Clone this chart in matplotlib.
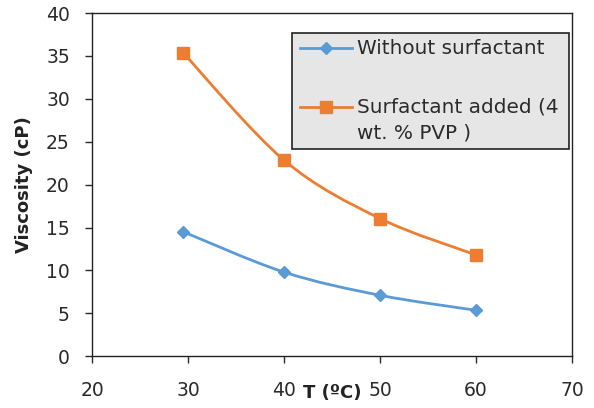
import matplotlib
matplotlib.use('Agg')
import matplotlib.pyplot as plt
import numpy as np
from matplotlib.path import Path
from matplotlib.patches import PathPatch, Rectangle
from matplotlib.lines import Line2D

temp = [29.5, 40, 50, 60]
visc_plain = [14.5, 9.8, 7.1, 5.35]
visc_pvp = [35.35, 22.85, 16.05, 11.8]

labels = ['Without surfactant', 'Surfactant added (4', 'wt. % PVP )']
x_ticks = [20, 30, 40, 50, 60, 70]
y_ticks = [0, 5, 10, 15, 20, 25, 30, 35, 40]

c_blue = '#5B9BD5'
c_orange = '#ED7D31'

plt.rcParams['font.family'] = ['DejaVu Sans']


def smooth_path(xs, ys):
    # Excel style smoothed line: cubic bezier with catmull-rom style control points
    p = np.column_stack([xs, ys]).astype(float)
    ext = np.vstack([p[0], p, p[-1]])
    verts = [p[0]]
    codes = [Path.MOVETO]
    for i in range(len(p) - 1):
        p0, p1, p2, p3 = ext[i], ext[i + 1], ext[i + 2], ext[i + 3]
        verts += [p1 + (p2 - p0) / 6, p2 - (p3 - p1) / 6, p2]
        codes += [Path.CURVE4] * 3
    return Path(verts, codes)


fig = plt.figure(figsize=(5.94, 4.08), dpi=100)
ax = fig.add_axes([0.155, 0.127, 0.808, 0.841])

for ys, col, mk, ms in [(visc_plain, c_blue, 'D', 6.5), (visc_pvp, c_orange, 's', 8.5)]:
    ax.add_patch(PathPatch(smooth_path(temp, ys), facecolor='none', edgecolor=col, lw=2))
    ax.plot(temp, ys, linestyle='none', marker=mk, ms=ms, color=col, zorder=3)

ax.set_xlim(20, 70)
ax.set_ylim(0, 40)
ax.set_xticks(x_ticks)
ax.set_yticks(y_ticks)
ax.tick_params(direction='out', length=5, width=1, labelsize=13.5, colors='#2a2a2a')
ax.tick_params(axis='y', pad=11)
ax.tick_params(axis='x', pad=13)
for s in ax.spines.values():
    s.set_linewidth(1)
    s.set_color('#222222')

ax.set_ylabel('Viscosity (cP)', fontsize=13, fontweight='bold', color='#222222')
ax.yaxis.set_label_coords(-0.123, 0.5)
ax.set_xlabel('T (ºC)', fontsize=13, fontweight='bold', color='#222222', va='center')
ax.xaxis.set_label_coords(0.5, -0.108)

# legend box, drawn by hand so the two-line label sits like the original
ax.add_patch(Rectangle((0.416, 0.603), 0.578, 0.338, transform=ax.transAxes,
                       facecolor='#e6e6e6', edgecolor='#222222', lw=1.2, zorder=4))
rows = [0.898, 0.726]
for y, col, mk, ms in [(rows[0], c_blue, 'D', 6), (rows[1], c_orange, 's', 8.5)]:
    ax.add_line(Line2D([0.433, 0.541], [y, y], transform=ax.transAxes, color=col, lw=2, zorder=5))
    ax.add_line(Line2D([0.487], [y], transform=ax.transAxes, marker=mk, ms=ms, color=col, zorder=5))
text_y = [0.898, 0.726, 0.650]
for lab, y in zip(labels, text_y):
    ax.text(0.552, y, lab, transform=ax.transAxes, fontsize=14.4, color='#2a2a2a',
            va='center', ha='left', zorder=6)

fig.savefig('out.png', dpi=100)
